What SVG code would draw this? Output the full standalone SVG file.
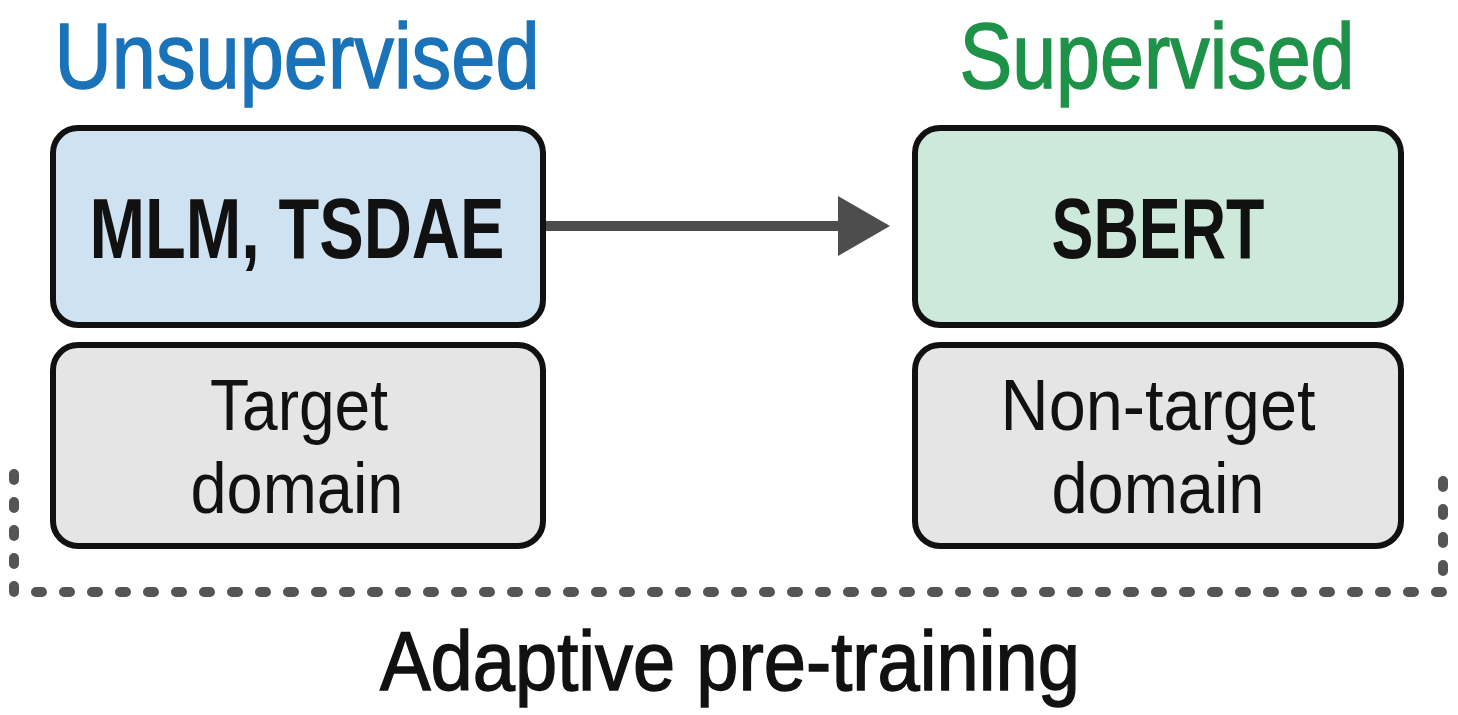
<svg xmlns="http://www.w3.org/2000/svg" width="1458" height="715" viewBox="0 0 1458 715">
<defs>
<style>
.box{stroke:#111;stroke-width:6}
.blue{fill:#cfe2f1}
.green{fill:#cde9db}
.grey{fill:#e5e5e5}
text{font-family:"Liberation Sans","DejaVu Sans",sans-serif;text-anchor:middle}
.title{font-size:92px;stroke-width:1.5px}
.main{font-size:86px;fill:#111;font-weight:bold}
.sub{font-size:72px;fill:#111}
.foot{font-size:84px;fill:#111;stroke:#111;stroke-width:1.5px}
.conn{stroke:#4d4d4d;stroke-width:10;fill:none}
.dash{stroke:#555;stroke-width:10;fill:none;stroke-dasharray:6 22;stroke-linecap:round}
</style>
<marker id="arr" markerWidth="6" markerHeight="7" refX="0" refY="3" orient="auto" markerUnits="strokeWidth"><path d="M0,0 L5.2,3 L0,6 Z" fill="#4d4d4d"/></marker>
</defs>
<rect width="1458" height="715" fill="#fff"/>
<text x="297" y="88" class="title" fill="#1a73b8" stroke="#1a73b8" textLength="485" lengthAdjust="spacingAndGlyphs">Unsupervised</text>
<text x="1157" y="88" class="title" fill="#1e9248" stroke="#1e9248" textLength="395" lengthAdjust="spacingAndGlyphs">Supervised</text>
<g id="mlm">
<rect class="box blue" x="53" y="128" width="490" height="197" rx="25"/>
<text x="297" y="258" class="main" textLength="415" lengthAdjust="spacingAndGlyphs">MLM, TSDAE</text>
</g>
<g id="target">
<rect class="box grey" x="53" y="345" width="490" height="201" rx="25"/>
<text x="299" y="430" class="sub" textLength="178" lengthAdjust="spacingAndGlyphs">Target</text>
<text x="297" y="513" class="sub" textLength="213" lengthAdjust="spacingAndGlyphs">domain</text>
</g>
<g id="sbert">
<rect class="box green" x="915" y="128" width="486" height="197" rx="25"/>
<text x="1158" y="258" class="main" textLength="213" lengthAdjust="spacingAndGlyphs">SBERT</text>
</g>
<g id="nontarget">
<rect class="box grey" x="915" y="345" width="486" height="201" rx="25"/>
<text x="1158" y="430" class="sub" textLength="315" lengthAdjust="spacingAndGlyphs">Non-target</text>
<text x="1158" y="513" class="sub" textLength="213" lengthAdjust="spacingAndGlyphs">domain</text>
</g>
<g id="connectors">
<line class="conn" x1="546" y1="226" x2="838" y2="226" marker-end="url(#arr)"/>
<path class="dash" d="M14,474 V592 H1443 V474"/>
</g>
<text x="730" y="690" class="foot" textLength="700" lengthAdjust="spacingAndGlyphs">Adaptive pre-training</text>
</svg>
